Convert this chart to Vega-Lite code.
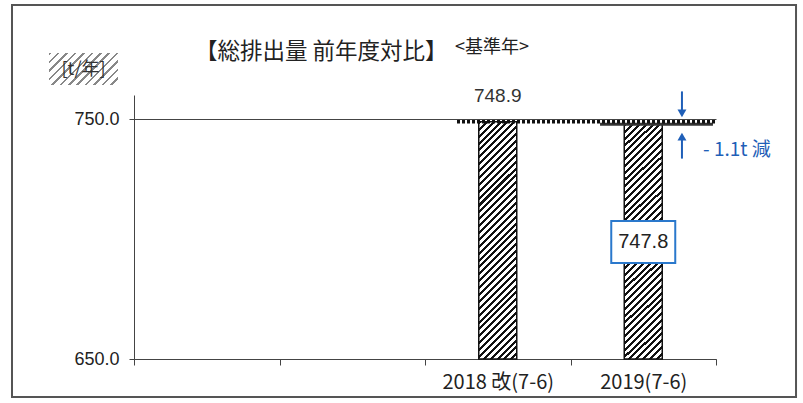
{
  "$schema": "https://vega.github.io/schema/vega-lite/v6.json",
  "width": 582,
  "height": 264,
  "autosize": {"type": "none"},
  "padding": {"left": 134, "top": 95, "right": 87, "bottom": 44},
  "background": "white",
  "config": {"view": {"stroke": null}},
  "data": {
    "values": [
      {"year": "2018 改(7-6)", "value": 748.9},
      {"year": "2019(7-6)", "value": 747.8}
    ]
  },
  "layer": [
    {
      "data": {"values": [{}]},
      "mark": {"type": "rect", "fill": "transparent", "stroke": "#555", "strokeWidth": 2},
      "encoding": {
        "x": {"datum": -0.8385, "type": "quantitative", "scale": {"domain": [0, 4], "nice": false, "zero": false}, "axis": null},
        "x2": {"datum": 4.55},
        "y": {"datum": 797.5, "type": "quantitative", "scale": {"domain": [650, 760], "nice": false, "zero": false}},
        "y2": {"datum": 634.17}
      }
    },
    {
      "data": {"values": [{"label": "【総排出量 前年度対比】"}]},
      "mark": {"type": "text", "align": "left", "baseline": "middle", "font": "Noto Sans CJK JP", "fontSize": 22.5, "color": "#222"},
      "encoding": {
        "x": {"datum": 0.419, "type": "quantitative", "scale": {"domain": [0, 4], "nice": false, "zero": false}, "axis": null},
        "y": {"datum": 777.9, "type": "quantitative", "scale": {"domain": [650, 760], "nice": false, "zero": false}},
        "text": {"field": "label"}
      }
    },
    {
      "data": {"values": [{}]},
      "mark": {
        "type": "rect",
        "fill": {
          "gradient": "linear", "x1": 0, "y1": 0, "x2": 1.205, "y2": 0.559,
          "stops": [
            {"offset":0,"color":"#888"},{"offset":0.025,"color":"#888"},{"offset":0.025,"color":"#fff"},{"offset":0.0833,"color":"#fff"},
            {"offset":0.0833,"color":"#888"},{"offset":0.1083,"color":"#888"},{"offset":0.1083,"color":"#fff"},{"offset":0.1667,"color":"#fff"},
            {"offset":0.1667,"color":"#888"},{"offset":0.1917,"color":"#888"},{"offset":0.1917,"color":"#fff"},{"offset":0.25,"color":"#fff"},
            {"offset":0.25,"color":"#888"},{"offset":0.275,"color":"#888"},{"offset":0.275,"color":"#fff"},{"offset":0.3333,"color":"#fff"},
            {"offset":0.3333,"color":"#888"},{"offset":0.3583,"color":"#888"},{"offset":0.3583,"color":"#fff"},{"offset":0.4167,"color":"#fff"},
            {"offset":0.4167,"color":"#888"},{"offset":0.4417,"color":"#888"},{"offset":0.4417,"color":"#fff"},{"offset":0.5,"color":"#fff"},
            {"offset":0.5,"color":"#888"},{"offset":0.525,"color":"#888"},{"offset":0.525,"color":"#fff"},{"offset":0.5833,"color":"#fff"},
            {"offset":0.5833,"color":"#888"},{"offset":0.6083,"color":"#888"},{"offset":0.6083,"color":"#fff"},{"offset":0.6667,"color":"#fff"},
            {"offset":0.6667,"color":"#888"},{"offset":0.6917,"color":"#888"},{"offset":0.6917,"color":"#fff"},{"offset":0.75,"color":"#fff"},
            {"offset":0.75,"color":"#888"},{"offset":0.775,"color":"#888"},{"offset":0.775,"color":"#fff"},{"offset":0.8333,"color":"#fff"},
            {"offset":0.8333,"color":"#888"},{"offset":0.8583,"color":"#888"},{"offset":0.8583,"color":"#fff"},{"offset":0.9167,"color":"#fff"},
            {"offset":0.9167,"color":"#888"},{"offset":0.9417,"color":"#888"},{"offset":0.9417,"color":"#fff"},{"offset":1,"color":"#fff"}
          ]
        }
      },
      "encoding": {
        "x": {"datum": -0.5842, "type": "quantitative", "scale": {"domain": [0, 4], "nice": false, "zero": false}, "axis": null},
        "x2": {"datum": -0.11},
        "y": {"datum": 777.5, "type": "quantitative", "scale": {"domain": [650, 760], "nice": false, "zero": false}},
        "y2": {"datum": 764.17}
      }
    },
    {
      "data": {"values": [{"label": "[t/年]"}]},
      "mark": {"type": "text", "font": "Noto Sans CJK JP", "fontSize": 18, "color": "#333", "align": "center", "baseline": "middle"},
      "encoding": {
        "x": {"datum": -0.347, "type": "quantitative", "scale": {"domain": [0, 4], "nice": false, "zero": false}, "axis": null},
        "y": {"datum": 770.4, "type": "quantitative", "scale": {"domain": [650, 760], "nice": false, "zero": false}},
        "text": {"field": "label"}
      }
    },
    {
      "mark": {
        "type": "bar",
        "width": 38,
        "stroke": "#111",
        "strokeWidth": 1.5,
        "fill": {
          "gradient": "linear", "x1": 0, "y1": 0, "x2": 0.181, "y2": 1.131,
          "stops": [
            {"offset":0,"color":"#111"},{"offset":0.011,"color":"#111"},{"offset":0.011,"color":"#fff"},{"offset":0.025,"color":"#fff"},
            {"offset":0.025,"color":"#111"},{"offset":0.036,"color":"#111"},{"offset":0.036,"color":"#fff"},{"offset":0.05,"color":"#fff"},
            {"offset":0.05,"color":"#111"},{"offset":0.061,"color":"#111"},{"offset":0.061,"color":"#fff"},{"offset":0.075,"color":"#fff"},
            {"offset":0.075,"color":"#111"},{"offset":0.086,"color":"#111"},{"offset":0.086,"color":"#fff"},{"offset":0.1,"color":"#fff"},
            {"offset":0.1,"color":"#111"},{"offset":0.111,"color":"#111"},{"offset":0.111,"color":"#fff"},{"offset":0.125,"color":"#fff"},
            {"offset":0.125,"color":"#111"},{"offset":0.136,"color":"#111"},{"offset":0.136,"color":"#fff"},{"offset":0.15,"color":"#fff"},
            {"offset":0.15,"color":"#111"},{"offset":0.161,"color":"#111"},{"offset":0.161,"color":"#fff"},{"offset":0.175,"color":"#fff"},
            {"offset":0.175,"color":"#111"},{"offset":0.186,"color":"#111"},{"offset":0.186,"color":"#fff"},{"offset":0.2,"color":"#fff"},
            {"offset":0.2,"color":"#111"},{"offset":0.211,"color":"#111"},{"offset":0.211,"color":"#fff"},{"offset":0.225,"color":"#fff"},
            {"offset":0.225,"color":"#111"},{"offset":0.236,"color":"#111"},{"offset":0.236,"color":"#fff"},{"offset":0.25,"color":"#fff"},
            {"offset":0.25,"color":"#111"},{"offset":0.261,"color":"#111"},{"offset":0.261,"color":"#fff"},{"offset":0.275,"color":"#fff"},
            {"offset":0.275,"color":"#111"},{"offset":0.286,"color":"#111"},{"offset":0.286,"color":"#fff"},{"offset":0.3,"color":"#fff"},
            {"offset":0.3,"color":"#111"},{"offset":0.311,"color":"#111"},{"offset":0.311,"color":"#fff"},{"offset":0.325,"color":"#fff"},
            {"offset":0.325,"color":"#111"},{"offset":0.336,"color":"#111"},{"offset":0.336,"color":"#fff"},{"offset":0.35,"color":"#fff"},
            {"offset":0.35,"color":"#111"},{"offset":0.361,"color":"#111"},{"offset":0.361,"color":"#fff"},{"offset":0.375,"color":"#fff"},
            {"offset":0.375,"color":"#111"},{"offset":0.386,"color":"#111"},{"offset":0.386,"color":"#fff"},{"offset":0.4,"color":"#fff"},
            {"offset":0.4,"color":"#111"},{"offset":0.411,"color":"#111"},{"offset":0.411,"color":"#fff"},{"offset":0.425,"color":"#fff"},
            {"offset":0.425,"color":"#111"},{"offset":0.436,"color":"#111"},{"offset":0.436,"color":"#fff"},{"offset":0.45,"color":"#fff"},
            {"offset":0.45,"color":"#111"},{"offset":0.461,"color":"#111"},{"offset":0.461,"color":"#fff"},{"offset":0.475,"color":"#fff"},
            {"offset":0.475,"color":"#111"},{"offset":0.486,"color":"#111"},{"offset":0.486,"color":"#fff"},{"offset":0.5,"color":"#fff"},
            {"offset":0.5,"color":"#111"},{"offset":0.511,"color":"#111"},{"offset":0.511,"color":"#fff"},{"offset":0.525,"color":"#fff"},
            {"offset":0.525,"color":"#111"},{"offset":0.536,"color":"#111"},{"offset":0.536,"color":"#fff"},{"offset":0.55,"color":"#fff"},
            {"offset":0.55,"color":"#111"},{"offset":0.561,"color":"#111"},{"offset":0.561,"color":"#fff"},{"offset":0.575,"color":"#fff"},
            {"offset":0.575,"color":"#111"},{"offset":0.586,"color":"#111"},{"offset":0.586,"color":"#fff"},{"offset":0.6,"color":"#fff"},
            {"offset":0.6,"color":"#111"},{"offset":0.611,"color":"#111"},{"offset":0.611,"color":"#fff"},{"offset":0.625,"color":"#fff"},
            {"offset":0.625,"color":"#111"},{"offset":0.636,"color":"#111"},{"offset":0.636,"color":"#fff"},{"offset":0.65,"color":"#fff"},
            {"offset":0.65,"color":"#111"},{"offset":0.661,"color":"#111"},{"offset":0.661,"color":"#fff"},{"offset":0.675,"color":"#fff"},
            {"offset":0.675,"color":"#111"},{"offset":0.686,"color":"#111"},{"offset":0.686,"color":"#fff"},{"offset":0.7,"color":"#fff"},
            {"offset":0.7,"color":"#111"},{"offset":0.711,"color":"#111"},{"offset":0.711,"color":"#fff"},{"offset":0.725,"color":"#fff"},
            {"offset":0.725,"color":"#111"},{"offset":0.736,"color":"#111"},{"offset":0.736,"color":"#fff"},{"offset":0.75,"color":"#fff"},
            {"offset":0.75,"color":"#111"},{"offset":0.761,"color":"#111"},{"offset":0.761,"color":"#fff"},{"offset":0.775,"color":"#fff"},
            {"offset":0.775,"color":"#111"},{"offset":0.786,"color":"#111"},{"offset":0.786,"color":"#fff"},{"offset":0.8,"color":"#fff"},
            {"offset":0.8,"color":"#111"},{"offset":0.811,"color":"#111"},{"offset":0.811,"color":"#fff"},{"offset":0.825,"color":"#fff"},
            {"offset":0.825,"color":"#111"},{"offset":0.836,"color":"#111"},{"offset":0.836,"color":"#fff"},{"offset":0.85,"color":"#fff"},
            {"offset":0.85,"color":"#111"},{"offset":0.861,"color":"#111"},{"offset":0.861,"color":"#fff"},{"offset":0.875,"color":"#fff"},
            {"offset":0.875,"color":"#111"},{"offset":0.886,"color":"#111"},{"offset":0.886,"color":"#fff"},{"offset":0.9,"color":"#fff"},
            {"offset":0.9,"color":"#111"},{"offset":0.911,"color":"#111"},{"offset":0.911,"color":"#fff"},{"offset":0.925,"color":"#fff"},
            {"offset":0.925,"color":"#111"},{"offset":0.936,"color":"#111"},{"offset":0.936,"color":"#fff"},{"offset":0.95,"color":"#fff"},
            {"offset":0.95,"color":"#111"},{"offset":0.961,"color":"#111"},{"offset":0.961,"color":"#fff"},{"offset":0.975,"color":"#fff"},
            {"offset":0.975,"color":"#111"},{"offset":0.986,"color":"#111"},{"offset":0.986,"color":"#fff"},{"offset":1,"color":"#fff"}
          ]
        }
      },
      "encoding": {
        "x": {
          "field": "year", "type": "nominal",
          "scale": {"domain": ["_1", "_2", "2018 改(7-6)", "2019(7-6)"], "paddingInner": 0, "paddingOuter": 0},
          "axis": {
            "title": null,
            "labelExpr": "indexof(datum.label, '_') == 0 ? '' : datum.label",
            "tickBand": "extent",
            "labelAngle": 0,
            "tickSize": 6,
            "labelPadding": 7,
            "domainColor": "#444",
            "tickColor": "#444",
            "labelFont": "Liberation Sans Narrow, Noto Sans CJK JP",
            "labelFontSize": 20,
            "labelColor": "#222",
            "grid": false
          }
        },
        "y": {
          "field": "value", "type": "quantitative",
          "scale": {"domain": [650, 760], "nice": false, "zero": false},
          "axis": {
            "title": null,
            "values": [650, 750],
            "format": ".1f",
            "grid": true,
            "gridColor": "#444",
            "gridOpacity": 1,
            "gridWidth": 1,
            "tickSize": 5,
            "labelPadding": 10,
            "domainColor": "#444",
            "tickColor": "#444",
            "labelFont": "Liberation Sans Narrow, Liberation Sans",
            "labelFontSize": 18,
            "labelColor": "#222"
          }
        },
        "y2": {"datum": 650}
      }
    },
    {
      "transform": [{"filter": "datum.year === '2018 改(7-6)'"}],
      "mark": {"type": "text", "dy": -26, "font": "Liberation Sans", "fontSize": 19, "color": "#333"},
      "encoding": {
        "x": {"field": "year", "type": "nominal", "scale": {"domain": ["_1", "_2", "2018 改(7-6)", "2019(7-6)"], "paddingInner": 0, "paddingOuter": 0}, "axis": null},
        "y": {"field": "value", "type": "quantitative", "scale": {"domain": [650, 760], "nice": false, "zero": false}},
        "text": {"field": "value", "format": ".1f"}
      }
    },
    {
      "transform": [{"filter": "datum.year === '2019(7-6)'"}],
      "mark": {"type": "rule", "strokeWidth": 3, "color": "#333"},
      "encoding": {
        "x": {"datum": 3.203, "type": "quantitative", "scale": {"domain": [0, 4], "nice": false, "zero": false}, "axis": null},
        "x2": {"datum": 3.979},
        "y": {"field": "value", "type": "quantitative", "scale": {"domain": [650, 760], "nice": false, "zero": false}}
      }
    },
    {
      "transform": [{"filter": "datum.year === '2018 改(7-6)'"}],
      "mark": {"type": "rule", "strokeWidth": 3.5, "strokeDash": [3, 2], "color": "#111"},
      "encoding": {
        "x": {"datum": 2.22, "type": "quantitative", "scale": {"domain": [0, 4], "nice": false, "zero": false}, "axis": null},
        "x2": {"datum": 4.007},
        "y": {"field": "value", "type": "quantitative", "scale": {"domain": [650, 760], "nice": false, "zero": false}}
      }
    },
    {
      "transform": [{"filter": "datum.year === '2019(7-6)'"}],
      "mark": {"type": "bar", "width": 64, "fill": "white", "stroke": "#2a78cc", "strokeWidth": 2},
      "encoding": {
        "x": {"field": "year", "type": "nominal", "scale": {"domain": ["_1", "_2", "2018 改(7-6)", "2019(7-6)"], "paddingInner": 0, "paddingOuter": 0}, "axis": null},
        "y": {"datum": 707.5, "type": "quantitative", "scale": {"domain": [650, 760], "nice": false, "zero": false}},
        "y2": {"datum": 690}
      }
    },
    {
      "transform": [{"filter": "datum.year === '2019(7-6)'"}],
      "mark": {"type": "text", "font": "Liberation Sans", "fontSize": 20, "color": "#222"},
      "encoding": {
        "x": {"field": "year", "type": "nominal", "scale": {"domain": ["_1", "_2", "2018 改(7-6)", "2019(7-6)"], "paddingInner": 0, "paddingOuter": 0}, "axis": null},
        "y": {"datum": 698.75, "type": "quantitative", "scale": {"domain": [650, 760], "nice": false, "zero": false}},
        "text": {"field": "value", "format": ".1f"}
      }
    },
    {
      "data": {"values": [{"from": 761.5, "to": 753.5}, {"from": 741.5, "to": 733.5}]},
      "mark": {"type": "rule", "strokeWidth": 2, "color": "#1f5fb8"},
      "encoding": {
        "x": {"datum": 3.766, "type": "quantitative", "scale": {"domain": [0, 4], "nice": false, "zero": false}, "axis": null},
        "y": {"field": "from", "type": "quantitative", "scale": {"domain": [650, 760], "nice": false, "zero": false}},
        "y2": {"field": "to"}
      }
    },
    {
      "data": {"values": [{"tip": 752.3, "dir": "triangle-down"}, {"tip": 742.7, "dir": "triangle-up"}]},
      "mark": {"type": "point", "filled": true, "opacity": 1, "size": 80, "color": "#1f5fb8"},
      "encoding": {
        "x": {"datum": 3.766, "type": "quantitative", "scale": {"domain": [0, 4], "nice": false, "zero": false}, "axis": null},
        "y": {"field": "tip", "type": "quantitative", "scale": {"domain": [650, 760], "nice": false, "zero": false}},
        "shape": {"field": "dir", "type": "nominal", "scale": null}
      }
    },
    {
      "data": {"values": [{"label": "- 1.1t 減"}]},
      "mark": {"type": "text", "align": "left", "font": "Noto Sans CJK JP", "fontSize": 19, "color": "#1f5fb8"},
      "encoding": {
        "x": {"datum": 3.911, "type": "quantitative", "scale": {"domain": [0, 4], "nice": false, "zero": false}, "axis": null},
        "y": {"datum": 737.1, "type": "quantitative", "scale": {"domain": [650, 760], "nice": false, "zero": false}},
        "text": {"field": "label"}
      }
    },
    {
      "data": {"values": [{"label": "<基準年>"}]},
      "mark": {"type": "text", "align": "left", "font": "Noto Sans CJK JP", "fontSize": 18, "color": "#222"},
      "encoding": {
        "x": {"datum": 2.206, "type": "quantitative", "scale": {"domain": [0, 4], "nice": false, "zero": false}, "axis": null},
        "y": {"datum": 779.6, "type": "quantitative", "scale": {"domain": [650, 760], "nice": false, "zero": false}},
        "text": {"field": "label"}
      }
    }
  ],
  "resolve": {"scale": {"x": "independent"}}
}
